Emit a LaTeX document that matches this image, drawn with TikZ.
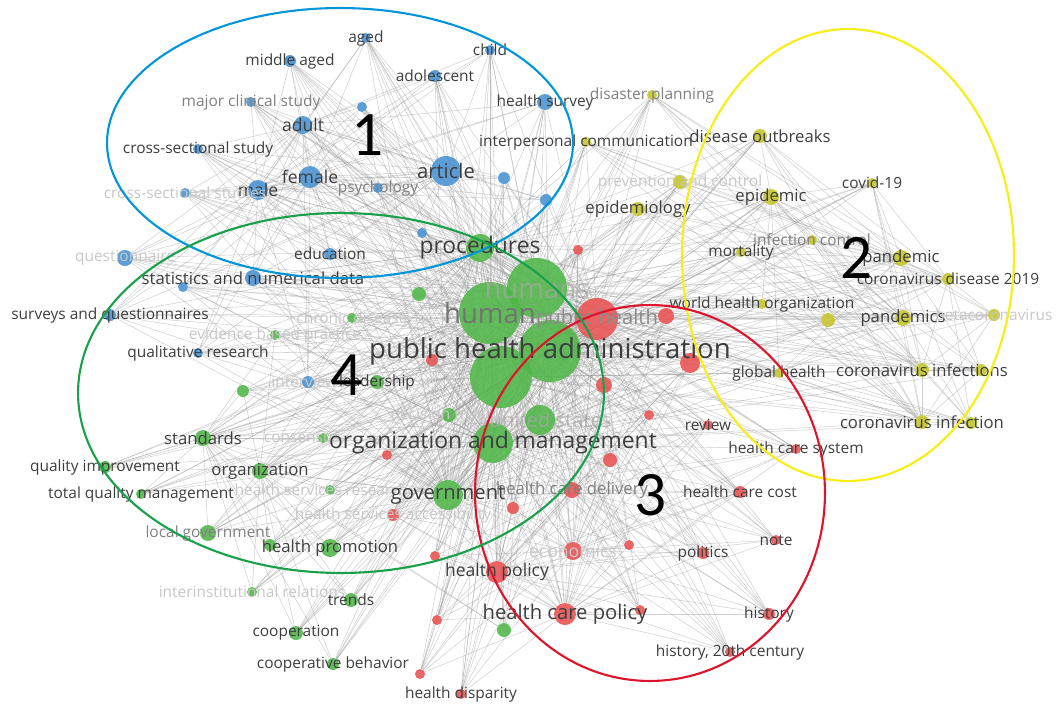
\documentclass[tikz,border=0pt]{standalone}
\usepackage{fontspec}
\setmainfont{Open Sans}
\newfontfamily\numfont{Carlito}
\usepackage{tikz}
\usetikzlibrary{positioning, backgrounds}
\definecolor{vBlue}{RGB}{72,145,210}
\definecolor{vGreen}{RGB}{80,182,72}
\definecolor{vRed}{RGB}{232,80,80}
\definecolor{vYellow}{RGB}{196,196,42}
\definecolor{cBlue}{RGB}{0,150,215}
\definecolor{cYellow}{RGB}{248,238,20}
\definecolor{cRed}{RGB}{222,20,45}
\definecolor{cGreen}{RGB}{25,160,75}
\definecolor{txt}{RGB}{62,62,62}
\definecolor{txtMid}{RGB}{128,128,128}
\definecolor{txtFaint}{RGB}{200,200,200}

\begin{document}
\begin{tikzpicture}[
  x=0.02cm, y=-0.02cm,
  dot/.style={circle, inner sep=0pt, fill opacity=.88},
  bl/.style={dot, fill=vBlue, minimum size=#1},
  ye/.style={dot, fill=vYellow, minimum size=#1},
  rd/.style={dot, fill=vRed, minimum size=#1},
  gr/.style={dot, fill=vGreen, minimum size=#1},
  edge/.style={draw=black!40, line width=.3pt, opacity=.45},
  lbl/.style={font=\fontsize{8.8}{10}\selectfont, text=txt, inner sep=0pt},
  mid/.style={text=txtMid},
  faint/.style={text=txtFaint},
  fsB/.style={font=\fontsize{9.5}{11}\selectfont},
  fsC/.style={font=\fontsize{10}{12}\selectfont},
  fsD/.style={font=\fontsize{11.5}{13}\selectfont},
  fsE/.style={font=\fontsize{13}{15}\selectfont},
  fsF/.style={font=\fontsize{15.7}{18}\selectfont},
  hull/.style={line width=1.2pt},
  num/.style={font=\numfont\fontsize{36}{36}\selectfont, text=black, inner sep=0pt},
]
\useasboundingbox (0,0) rectangle (1056,704);

% cluster 1
\node[bl=.2cm] (aged) at (366,38) {};
\node[bl=.24cm] (midaged) at (290,61) {};
\node[bl=.2cm] (child) at (490,50) {};
\node[bl=.24cm] (adol) at (435,76) {};
\node[bl=.2cm] (mcs) at (251,102) {};
\node[bl=.36cm] (adult) at (303,125) {};
\node[bl=.32cm] (hsurvey) at (545,102) {};
\node[bl=.2cm] (b1) at (362,107) {};
\node[bl=.2cm] (css) at (198,149) {};
\node[bl=.44cm] (female) at (310,177) {};
\node[bl=.4cm] (male) at (258,190) {};
\node[bl=.2cm] (psych) at (378,188) {};
\node[bl=.2cm] (css2) at (185,193) {};
\node[bl=.6cm] (article) at (446,171) {};
\node[bl=.24cm] (b2) at (504,178) {};
\node[bl=.24cm] (b3) at (546,200) {};
\node[bl=.2cm] (b4) at (422,233) {};
\node[bl=.24cm] (educ) at (330,254) {};
\node[bl=.32cm] (quest) at (125,258) {};
\node[bl=.32cm] (stats) at (253,278) {};
\node[bl=.2cm] (b5) at (183,287) {};
\node[bl=.24cm] (survq) at (110,315) {};
\node[bl=.2cm] (qual) at (198,353) {};
\node[bl=.24cm] (interv) at (308,382) {};

% cluster 2
\node[ye=.2cm] (disaster) at (652,95) {};
\node[ye=.2cm] (interp) at (586,142) {};
\node[ye=.28cm] (outbreaks) at (760,136) {};
\node[ye=.28cm] (prevent) at (680,182) {};
\node[ye=.2cm] (covid) at (872,183) {};
\node[ye=.28cm] (epidemiol) at (638,209) {};
\node[ye=.32cm] (epidemic) at (771,197) {};
\node[ye=.2cm] (infctrl) at (812,240) {};
\node[ye=.2cm] (mortal) at (741,252) {};
\node[ye=.32cm] (pandemic) at (901,258) {};
\node[ye=.24cm] (cvd19) at (948,279) {};
\node[ye=.2cm] (who) at (762,304) {};
\node[ye=.28cm] (y1) at (828,320) {};
\node[ye=.32cm] (pandemics) at (903,318) {};
\node[ye=.24cm] (betacov) at (994,315) {};
\node[ye=.2cm] (globalh) at (779,373) {};
\node[ye=.28cm] (covinfs) at (922,370) {};
\node[ye=.24cm] (y2) at (981,370) {};
\node[ye=.28cm] (covinf) at (922,422) {};
\node[ye=.24cm] (y3) at (971,423) {};

% cluster 3
\node[rd=.84cm] (ph) at (597,319) {};
\node[rd=.4cm] (r1) at (690,363) {};
\node[rd=.32cm] (r2) at (666,316) {};
\node[rd=.2cm] (r3) at (578,250) {};
\node[rd=.24cm] (r4) at (432,360) {};
\node[rd=.32cm] (r5) at (604,385) {};
\node[rd=.2cm] (r6) at (649,415) {};
\node[rd=.2cm] (review) at (708,425) {};
\node[rd=.28cm] (r7) at (610,460) {};
\node[rd=.2cm] (r8) at (387,455) {};
\node[rd=.2cm] (hcsys) at (796,449) {};
\node[rd=.32cm] (hcdel) at (572,490) {};
\node[rd=.24cm] (hccost) at (740,492) {};
\node[rd=.24cm] (r9) at (513,508) {};
\node[rd=.24cm] (hsacc) at (393,515) {};
\node[rd=.2cm] (note) at (776,540) {};
\node[rd=.2cm] (r10) at (629,545) {};
\node[rd=.36cm] (econ) at (573,551) {};
\node[rd=.24cm] (politics) at (703,553) {};
\node[rd=.2cm] (r11) at (435,556) {};
\node[rd=.44cm] (hpol) at (497,572) {};
\node[rd=.44cm] (hcpol) at (565,614) {};
\node[rd=.2cm] (r12) at (640,610) {};
\node[rd=.24cm] (history) at (769,614) {};
\node[rd=.2cm] (r13) at (437,620) {};
\node[rd=.2cm] (hist20) at (730,652) {};
\node[rd=.2cm] (r14) at (420,674) {};
\node[rd=.2cm] (hdisp) at (461,694) {};

% cluster 4
\node[gr=.56cm] (procs) at (480,248) {};
\node[gr=1.2cm] (humans) at (537,288) {};
\node[gr=1.24cm] (human) at (490,313) {};
\node[gr=1.24cm] (pha) at (550,351) {};
\node[gr=1.24cm] (g0) at (501,377) {};
\node[gr=.28cm] (g1) at (419,294) {};
\node[gr=.2cm] (chronic) at (352,318) {};
\node[gr=.2cm] (ebp) at (275,335) {};
\node[gr=.28cm] (leader) at (377,382) {};
\node[gr=.24cm] (g2) at (243,391) {};
\node[gr=.28cm] (decision) at (449,415) {};
\node[gr=.6cm] (usa) at (540,420) {};
\node[gr=.32cm] (standards) at (203,438) {};
\node[gr=.2cm] (consens) at (323,438) {};
\node[gr=.8cm] (orgman) at (493,443) {};
\node[gr=.32cm] (organiz) at (260,471) {};
\node[gr=.24cm] (qualimp) at (105,467) {};
\node[gr=.2cm] (tqm) at (141,494) {};
\node[gr=.2cm] (hsres) at (330,490) {};
\node[gr=.6cm] (govt) at (448,495) {};
\node[gr=.32cm] (localgov) at (208,533) {};
\node[gr=.36cm] (hpromo) at (330,548) {};
\node[gr=.24cm] (g3) at (270,545) {};
\node[gr=.2cm] (interinst) at (252,592) {};
\node[gr=.28cm] (trends) at (351,600) {};
\node[gr=.28cm] (coop) at (296,633) {};
\node[gr=.24cm] (coopbeh) at (333,664) {};
\node[gr=.28cm] (g4) at (504,630) {};

% links
\begin{scope}[on background layer]
  \fill[white] (0,0) rectangle (1056,704);
  \foreach \a in {aged,midaged,child,adol,mcs,adult,hsurvey,b1,css,female,male,psych,css2,article,b2,b3,b4,educ,quest,stats,b5,survq,qual,interv,
      disaster,interp,outbreaks,prevent,covid,epidemiol,epidemic,infctrl,mortal,pandemic,cvd19,who,y1,pandemics,betacov,globalh,covinfs,y2,covinf,y3,
      r1,r2,r3,r4,r5,r6,review,r7,r8,hcsys,hcdel,hccost,r9,hsacc,note,r10,econ,politics,r11,hpol,hcpol,r12,history,r13,hist20,r14,hdisp,
      procs,g1,chronic,ebp,leader,g2,decision,usa,standards,consens,organiz,qualimp,tqm,hsres,govt,localgov,hpromo,g3,interinst,trends,coop,coopbeh,g4}
    \foreach \b in {human,humans,pha,g0,ph,orgman}
      \draw[edge] (\a) -- (\b);
  \foreach \a in {aged,midaged,child,adol,mcs,hsurvey,b1,css,female,male,psych,css2,b2,b3,b4,educ,quest,stats,b5,survq,qual,interv,
      disaster,interp,outbreaks,prevent,epidemiol,epidemic,infctrl,mortal,who,y1,globalh,
      r1,r2,r4,r5,r6,review,r7,r8,hcsys,hccost,r9,hsacc,r10,econ,r11,hpol,hcpol,
      g1,chronic,ebp,leader,g2,decision,usa,standards,consens,organiz,hsres,localgov,hpromo,g3}
    \foreach \b in {procs,govt}
      \draw[edge] (\a) -- (\b);
  \foreach \a in {aged,midaged,child,adol,mcs,hsurvey,b1,css,psych,css2,b2,b3,b4,educ,quest,stats,b5,survq,qual,interv}
    \foreach \b in {article,female,male,adult}
      \draw[edge] (\a) -- (\b);
  \foreach \a in {disaster,interp,outbreaks,prevent,covid,epidemiol,infctrl,mortal,who,y1,betacov,globalh,y2,y3}
    \foreach \b in {epidemic,pandemic,pandemics,covinfs,covinf,cvd19}
      \draw[edge] (\a) -- (\b);
  \foreach \a in {r1,r2,r3,r4,r5,r6,review,r7,r8,hcsys,hccost,r9,hsacc,note,r10,politics,r11,r12,history,r13,hist20,r14,hdisp}
    \foreach \b in {hcpol,hpol,econ,hcdel}
      \draw[edge] (\a) -- (\b);
  \foreach \a in {g1,chronic,ebp,leader,g2,decision,usa,consens,qualimp,tqm,hsres,localgov,hpromo,g3,interinst,trends,coop,coopbeh,g4}
    \foreach \b in {organiz,standards}
      \draw[edge] (\a) -- (\b);
  \foreach \a/\b in {article/female,article/male,article/adult,female/male,female/adult,male/adult,
      epidemic/pandemic,epidemic/pandemics,pandemic/covinfs,pandemics/covinf,covinfs/covinf,cvd19/covinfs,
      hcpol/hpol,hcpol/econ,hpol/hcdel,govt/organiz,standards/organiz,procs/govt,
      human/humans,human/pha,human/g0,humans/pha,pha/g0,ph/human,ph/orgman,orgman/g0}
    \draw[edge] (\a) -- (\b);
\end{scope}

% labels
\node[lbl] (aged-t) at (aged) {aged};
\node[lbl] (midaged-t) at (midaged) {middle aged};
\node[lbl] (child-t) at (child) {child};
\node[lbl] (adol-t) at (adol) {adolescent};
\node[lbl, mid] (mcs-t) at (mcs) {major clinical study};
\node[lbl, fsC] (adult-t) at (adult) {adult};
\node[lbl] (hsurvey-t) at (hsurvey) {health survey};
\node[lbl] (css-t) at (css) {cross-sectional study};
\node[lbl, fsC] (female-t) at (female) {female};
\node[lbl, fsC] (male-t) at (male) {male};
\node[lbl, mid] (psych-t) at (psych) {psychology};
\node[lbl, faint] (css2-t) at (css2) {cross-sectional studies};
\node[lbl, fsD] (article-t) at (article) {article};
\node[lbl] (educ-t) at (educ) {education};
\node[lbl, faint] (quest-t) at (quest) {questionnaire};
\node[lbl, fsB] (stats-t) at (stats) {statistics and numerical data};
\node[lbl] (survq-t) at (survq) {surveys and questionnaires};
\node[lbl] (qual-t) at (qual) {qualitative research};
\node[lbl, faint] (interv-t) at (interv) {interviews};

\node[lbl, mid] (disaster-t) at (disaster) {disaster planning};
\node[lbl] (interp-t) at (interp) {interpersonal communication};
\node[lbl, fsB] (outbreaks-t) at (outbreaks) {disease outbreaks};
\node[lbl, faint] (prevent-t) at (prevent) {prevention and control};
\node[lbl] (covid-t) at (covid) {covid-19};
\node[lbl, fsB] (epidemiol-t) at (epidemiol) {epidemiology};
\node[lbl, fsB] (epidemic-t) at (epidemic) {epidemic};
\node[lbl, mid] (infctrl-t) at (infctrl) {infection control};
\node[lbl] (mortal-t) at (mortal) {mortality};
\node[lbl, fsB] (pandemic-t) at (pandemic) {pandemic};
\node[lbl] (cvd19-t) at (cvd19) {coronavirus disease 2019};
\node[lbl] (who-t) at (who) {world health organization};
\node[lbl, fsB] (pandemics-t) at (pandemics) {pandemics};
\node[lbl, faint] (betacov-t) at (betacov) {betacoronavirus};
\node[lbl] (globalh-t) at (globalh) {global health};
\node[lbl, fsB] (covinfs-t) at (covinfs) {coronavirus infections};
\node[lbl, fsB] (covinf-t) at (covinf) {coronavirus infection};

\node[lbl, fsD, text=black!45] (ph-t) at (ph) {public health};
\node[lbl] (review-t) at (review) {review};
\node[lbl] (hcsys-t) at (hcsys) {health care system};
\node[lbl, fsB, mid] (hcdel-t) at (hcdel) {health care delivery};
\node[lbl] (hccost-t) at (hccost) {health care cost};
\node[lbl, faint] (hsacc-t) at (hsacc) {health services accessibility};
\node[lbl] (note-t) at (note) {note};
\node[lbl, fsC, faint] (econ-t) at (econ) {economics};
\node[lbl] (politics-t) at (politics) {politics};
\node[lbl, fsC] (hpol-t) at (hpol) {health policy};
\node[lbl, fsD] (hcpol-t) at (hcpol) {health care policy};
\node[lbl] (history-t) at (history) {history};
\node[lbl] (hist20-t) at (hist20) {history, 20th century};
\node[lbl] (hdisp-t) at (hdisp) {health disparity};

\node[lbl, fsE] (procs-t) at (procs) {procedures};
\node[lbl, fsF, text=black!35, text opacity=.7] (humans-t) at (humans) {humans};
\node[lbl, fsF, text=black!55] (human-t) at (human) {human};
\node[lbl, faint] (chronic-t) at (chronic) {chronic disease};
\node[lbl, faint] (ebp-t) at (ebp) {evidence based practice};
\node[lbl] (leader-t) at (leader) {leadership};
\node[lbl, faint] (decision-t) at (decision) {decision making};
\node[lbl, fsD, text=black!35, text opacity=.7] (usa-t) at ([xshift=6pt]usa) {united states};
\node[lbl, fsB] (standards-t) at (standards) {standards};
\node[lbl, faint] (consens-t) at ([xshift=-12pt]consens) {consensus};
\node[lbl, fsE] (orgman-t) at (orgman) {organization and management};
\node[lbl, fsB] (organiz-t) at (organiz) {organization};
\node[lbl] (qualimp-t) at (qualimp) {quality improvement};
\node[lbl] (tqm-t) at (tqm) {total quality management};
\node[lbl, faint] (hsres-t) at ([xshift=-5pt]hsres) {health services research};
\node[lbl, fsD] (govt-t) at (govt) {government};
\node[lbl, mid] (localgov-t) at (localgov) {local government};
\node[lbl, fsB] (hpromo-t) at (hpromo) {health promotion};
\node[lbl, faint] (interinst-t) at (interinst) {interinstitutional relations};
\node[lbl] (trends-t) at (trends) {trends};
\node[lbl] (coop-t) at (coop) {cooperation};
\node[lbl] (coopbeh-t) at (coopbeh) {cooperative behavior};
\node[lbl, fsF] (pha-t) at (pha) {public health administration};

% cluster outlines
\draw[hull, cBlue] (340,143) ellipse [x radius=4.66cm, y radius=2.7cm];
\draw[hull, cYellow] (848,255) ellipse [x radius=3.32cm, y radius=4.52cm];
\draw[hull, cRed] (650,493) ellipse [x radius=3.5cm, y radius=3.76cm];
\draw[hull, cGreen] (341,393) ellipse [x radius=5.26cm, y radius=3.6cm];

\node[num] (n1) at (368,135) {1};
\node[num] (n2) at (857,258) {2};
\node[num] (n3) at (651,495) {3};
\node[num] (n4) at (347,375) {4};
\end{tikzpicture}
\end{document}
